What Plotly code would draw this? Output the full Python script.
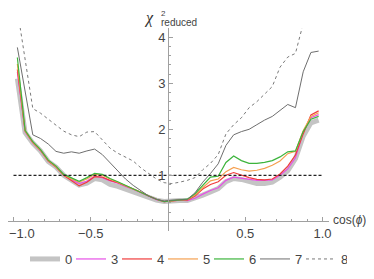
import plotly.graph_objects as go

# ---------------- data ----------------
cos_phi = [-0.975, -0.925, -0.875, -0.825, -0.775, -0.725, -0.675, -0.625, -0.575, -0.525,
           -0.475, -0.425, -0.375, -0.325, -0.275, -0.225, -0.175, -0.125, -0.075, -0.025,
           0.025, 0.075, 0.125, 0.175, 0.225, 0.275, 0.325, 0.375, 0.425, 0.475,
           0.525, 0.575, 0.625, 0.675, 0.725, 0.775, 0.825, 0.875, 0.925, 0.975]

chi_0 = [3.10, 1.93, 1.70, 1.53, 1.30, 1.18, 1.00, 0.88, 0.79, 0.83,
         0.93, 0.90, 0.80, 0.76, 0.70, 0.64, 0.58, 0.51, 0.46, 0.43,
         0.45, 0.45, 0.45, 0.50, 0.57, 0.64, 0.71, 0.86, 0.93, 0.91,
         0.86, 0.82, 0.82, 0.85, 0.96, 1.10, 1.36, 1.85, 2.14, 2.20]
chi_3 = [3.25, 1.95, 1.71, 1.54, 1.31, 1.19, 1.01, 0.90, 0.82, 0.87,
         0.98, 0.95, 0.88, 0.83, 0.76, 0.70, 0.62, 0.54, 0.47, 0.43,
         0.45, 0.46, 0.45, 0.50, 0.59, 0.67, 0.73, 0.89, 0.96, 0.94,
         0.91, 0.89, 0.89, 0.90, 1.00, 1.14, 1.38, 1.93, 2.25, 2.32]
chi_4 = [3.30, 1.96, 1.71, 1.54, 1.31, 1.18, 1.00, 0.88, 0.77, 0.85,
         0.97, 0.96, 0.89, 0.84, 0.77, 0.71, 0.63, 0.55, 0.48, 0.43,
         0.45, 0.46, 0.46, 0.55, 0.70, 0.80, 0.86, 1.00, 1.06, 1.00,
         0.95, 0.91, 0.90, 0.92, 1.03, 1.20, 1.44, 1.90, 2.31, 2.40]
chi_5 = [3.42, 1.97, 1.72, 1.55, 1.32, 1.19, 1.01, 0.92, 0.85, 0.92,
         1.02, 1.00, 0.92, 0.85, 0.77, 0.71, 0.63, 0.55, 0.48, 0.43,
         0.45, 0.46, 0.47, 0.57, 0.73, 0.88, 0.92, 1.08, 1.17, 1.12,
         1.09, 1.11, 1.15, 1.22, 1.31, 1.47, 1.52, 1.97, 2.28, 2.36]
chi_6 = [3.56, 1.98, 1.73, 1.56, 1.33, 1.20, 1.02, 0.94, 0.87, 0.95,
         1.04, 1.02, 0.93, 0.86, 0.78, 0.71, 0.63, 0.55, 0.48, 0.43,
         0.45, 0.46, 0.48, 0.60, 0.78, 0.96, 0.98, 1.28, 1.42, 1.32,
         1.26, 1.26, 1.28, 1.32, 1.40, 1.51, 1.53, 1.95, 2.22, 2.28]
chi_7 = [3.78, 2.85, 1.88, 1.80, 1.68, 1.52, 1.48, 1.51, 1.48, 1.53,
         1.57, 1.45, 1.28, 1.10, 0.92, 0.78, 0.66, 0.55, 0.48, 0.44,
         0.46, 0.47, 0.47, 0.62, 0.85, 1.04, 1.25, 1.65, 1.88, 1.95,
         2.00, 2.10, 2.20, 2.28, 2.40, 2.54, 2.47, 3.25, 3.67, 3.70]
chi_8 = [4.60, 3.50, 2.45, 2.35, 2.22, 2.07, 1.96, 1.88, 1.84, 1.94,
         1.95, 1.77, 1.59, 1.48, 1.39, 1.31, 1.16, 1.03, 0.92, 0.84,
         0.82, 0.85, 0.89, 0.95, 1.12, 1.26, 1.45, 1.90, 2.10, 2.25,
         2.47, 2.60, 2.77, 2.93, 3.35, 3.57, 3.65, 4.30, 5.20, 5.60]

series_names = ["0", "3", "4", "5", "6", "7", "8"]
series_values = [chi_0, chi_3, chi_4, chi_5, chi_6, chi_7, chi_8]

ref_x = [-1.0, 1.0]
ref_level = [1.0, 1.0]

x_ticks = [-1.0, -0.5, 0.5, 1.0]
x_tick_text = ["", "\u22120.5", "0.5", "1.0"]   # first label drawn separately (page edge)
first_x_label = "\u22121.0"
y_ticks = [1, 2, 3, 4]
y_tick_text = ["1", "2", "3", "4"]

# ---------------- styles ----------------
styles = {
    "0": dict(color="#c4c4c4", width=5, dash="solid"),
    "3": dict(color="#e650e6", width=1.2, dash="solid"),
    "4": dict(color="#f03c3c", width=1.2, dash="solid"),
    "5": dict(color="#f5a050", width=1.2, dash="solid"),
    "6": dict(color="#3cb43c", width=1.2, dash="solid"),
    "7": dict(color="#6e6e6e", width=1, dash="solid"),
    "8": dict(color="#7a7a7a", width=1, dash="3px,3px"),
}

# page has an 8px body margin: figure pixel = page pixel - 8
OFF = 8
W, H = 374 - OFF, 279 - OFF
X0PX, XSC = 168.0 - OFF, 154.5   # x_px = X0PX + XSC*x
Y0PX, YSC = 221.3 - OFF, 46.0    # y_px = Y0PX - YSC*y
XR = [-X0PX / XSC, 1.04]
YR = [-0.2, 4.2]
x_dom = [(X0PX + XSC * XR[0]) / W, (X0PX + XSC * XR[1]) / W]
y_dom = [1 - (Y0PX - YSC * YR[0]) / H, 1 - (Y0PX - YSC * YR[1]) / H]

fig = go.Figure()
for name, vals in zip(series_names, series_values):
    st = styles[name]
    fig.add_trace(go.Scatter(x=cos_phi, y=vals, mode="lines", name=name,
                             line=dict(color=st["color"], width=st["width"], dash=st["dash"])))

fig.add_trace(go.Scatter(x=ref_x, y=ref_level, mode="lines", showlegend=False,
                         line=dict(color="#222222", width=1.3, dash="3px,2px")))

axis_color = "#a0a0a0"
txt_color = "#444444"
fig.update_layout(
    width=W, height=H,
    margin=dict(l=0, r=0, t=0, b=0, autoexpand=False),
    paper_bgcolor="white", plot_bgcolor="white",
    font=dict(family="Liberation Sans, Arial, sans-serif", size=13, color=txt_color),
    xaxis=dict(range=XR, domain=[max(0, x_dom[0]), x_dom[1]], anchor="free",
               position=1 - Y0PX / H, automargin=False, ticklabeloverflow="allow",
               showgrid=False, zeroline=False, showline=True,
               linecolor=axis_color, linewidth=1,
               tickmode="array", tickvals=x_ticks, ticktext=x_tick_text,
               ticks="inside", ticklen=4, tickcolor=axis_color,
               minor=dict(tickmode="linear", tick0=0, dtick=0.1, ticks="inside",
                          ticklen=2, tickcolor=axis_color),
               tickfont=dict(size=13, color=txt_color)),
    yaxis=dict(range=YR, domain=y_dom, anchor="free",
               position=X0PX / W, automargin=False, ticklabeloverflow="allow",
               showgrid=False, zeroline=False, showline=True,
               linecolor=axis_color, linewidth=1,
               tickmode="array", tickvals=y_ticks, ticktext=y_tick_text,
               ticks="inside", ticklen=4, tickcolor=axis_color,
               minor=dict(tickmode="linear", tick0=0, dtick=0.2, ticks="inside",
                          ticklen=2, tickcolor=axis_color),
               tickfont=dict(size=13, color=txt_color)),
    showlegend=True,
    legend=dict(orientation="h", x=(186 - OFF) / W, xanchor="center",
                y=1 - (259 - OFF) / H, yanchor="middle",
                itemwidth=30, entrywidth=1, font=dict(size=13, color=txt_color),
                bgcolor="rgba(0,0,0,0)"),
)

# first x tick label, kept inside the visible page
fig.add_annotation(xref="paper", yref="paper", x=0.0, y=1 - (233 - OFF) / H,
                   text=first_x_label, showarrow=False, xanchor="left", yanchor="middle",
                   borderpad=0, font=dict(size=13, color=txt_color))

# y-axis title  chi^2_reduced
fig.add_annotation(xref="paper", yref="paper", x=(155 - OFF) / W, y=1.0,
                   text="<i>\u03c7</i>", showarrow=False, xanchor="right", yanchor="top",
                   borderpad=0,
                   font=dict(family="Liberation Serif, serif", size=16, color="#333333"))
fig.add_annotation(xref="paper", yref="paper", x=(159.5 - OFF) / W, y=1.0,
                   text="<span style='font-size:8px'>2</span><br><span style='font-size:10px'>reduced</span>",
                   showarrow=False, xanchor="left", yanchor="top", align="left", borderpad=0,
                   font=dict(size=8, color=txt_color))
# x-axis title
fig.add_annotation(xref="paper", yref="paper", x=(332 - OFF) / W, y=1 - (220 - OFF) / H,
                   text="cos(<i>\u03d5</i>)", showarrow=False, xanchor="left", yanchor="middle",
                   borderpad=0, font=dict(size=12, color=txt_color))

fig.write_html("out.html")
